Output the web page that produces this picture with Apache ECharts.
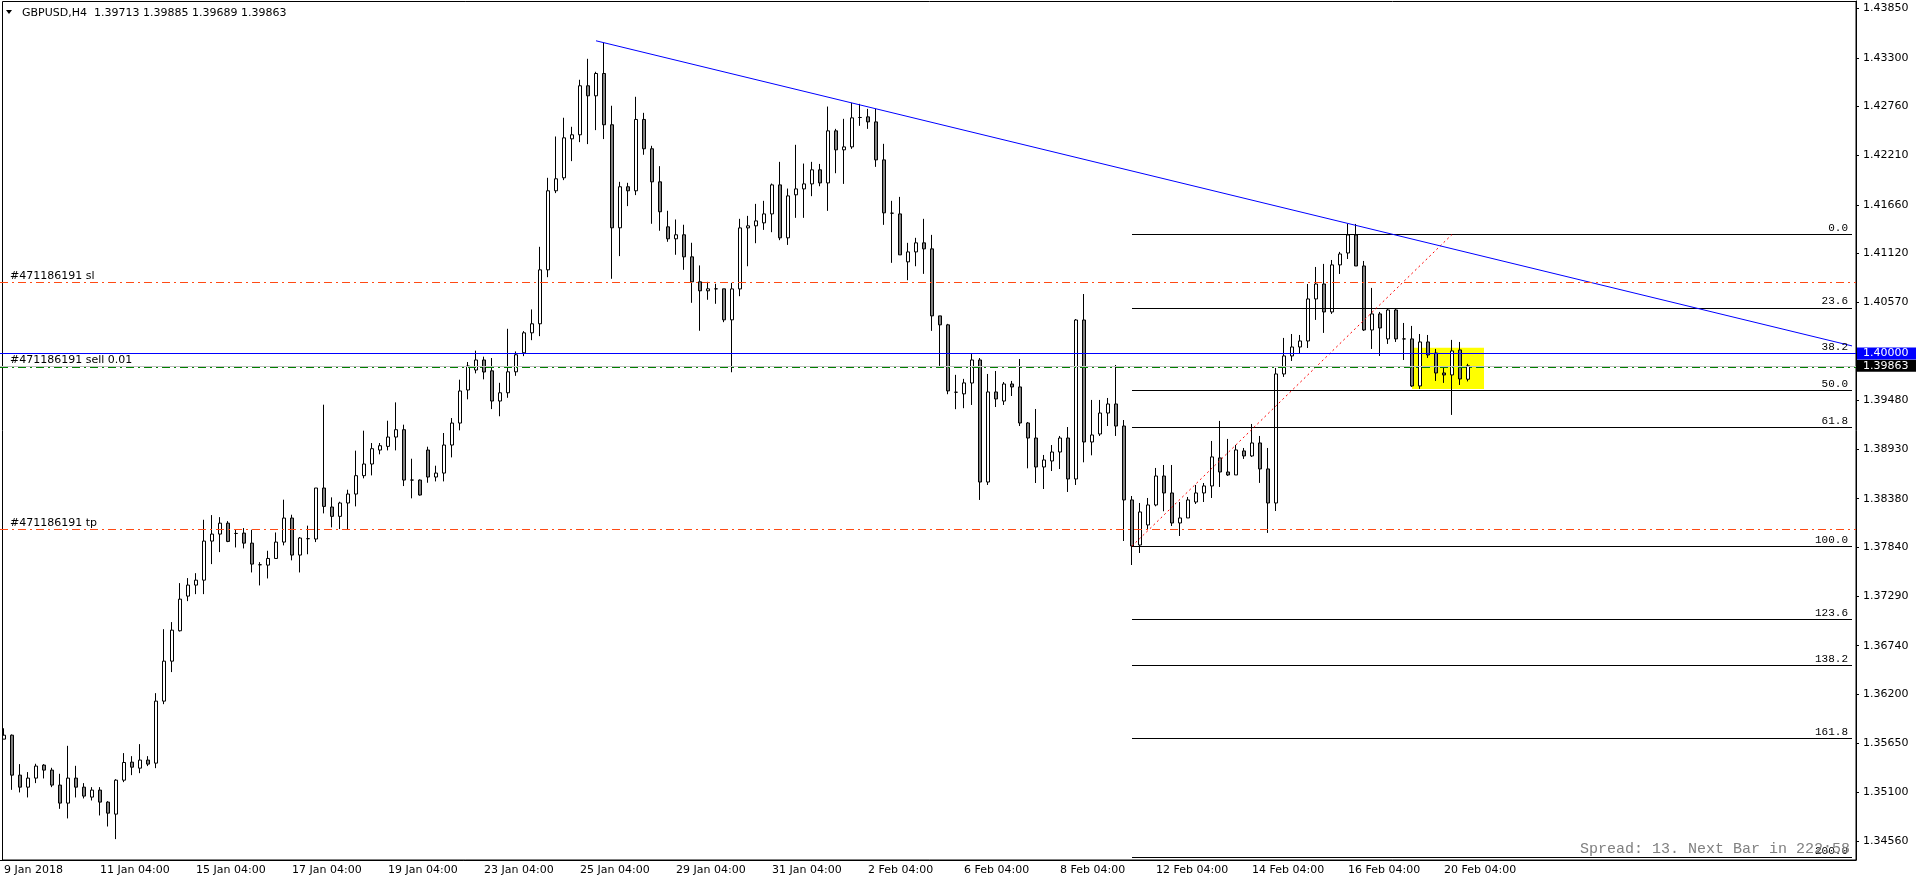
<!DOCTYPE html>
<html>
<head>
<meta charset="utf-8">
<script src="https://cdn.jsdelivr.net/npm/echarts@6/dist/echarts.min.js"></script>
<style>
html, body { margin: 0; padding: 0; background: #fff; }
#chart { width: 1916px; height: 884px; }
</style>
</head>
<body>
<div id="chart"></div>
<script>
// GBPUSD H4, one value per bar, bar 0 = 9 Jan 2018 04:00
var opens = [
 1.35697,1.35741,1.35295,1.35161,1.35262,1.35407,1.35351,1.35184,1.34983,1.35262,
 1.35161,1.35050,1.35128,1.34994,1.34860,1.35239,1.35440,1.35373,1.35463,1.35429,
 1.36121,1.36567,1.36906,1.37293,1.37416,1.37471,1.37907,1.37985,1.38107,1.37992,
 1.37996,1.37884,1.37643,1.37639,1.37713,1.37896,1.38164,1.37751,1.37934,1.37930,
 1.38499,1.38287,1.38183,1.38332,1.38432,1.38637,1.38767,1.38923,1.38964,1.39068,
 1.39150,1.38588,1.38588,1.38923,1.38622,1.38666,1.38979,1.39224,1.39593,1.39816,
 1.39928,1.39807,1.39470,1.39562,1.39796,1.40008,1.40231,1.40332,1.40934,1.41816,
 1.41961,1.42396,1.42441,1.42988,1.42876,1.43125,1.42553,1.41403,1.41861,1.41816,
 1.42612,1.42285,1.41916,1.41414,1.41280,1.41325,1.41079,1.40800,1.40700,1.40722,
 1.40722,1.40376,1.40721,1.41402,1.41425,1.41458,1.41558,1.41882,1.41291,1.41771,
 1.41837,1.41893,1.42050,1.41904,1.42485,1.42273,1.42306,1.42634,1.42641,1.42585,
 1.42161,1.41566,1.41558,1.41023,1.41134,1.41235,1.41168,1.40420,1.40320,1.39568,
 1.39550,1.39671,1.39928,1.38566,1.39571,1.39470,1.39660,1.39627,1.39225,1.39057,
 1.38734,1.38801,1.38901,1.39057,1.38600,1.40374,1.39013,1.39102,1.39336,1.39437,
 1.39191,1.38366,1.37863,1.38087,1.38310,1.38633,1.38444,1.38109,1.38165,1.38343,
 1.38444,1.38522,1.38835,1.38678,1.38645,1.38913,1.38857,1.39002,1.38712,1.38332,
 1.39772,1.39973,1.40073,1.40140,1.40609,1.40776,1.40464,1.40989,1.41122,1.41323,
 1.40977,1.40263,1.40442,1.40163,1.40486,1.40163,1.40163,1.39638,1.40129,1.40006,
 1.39783,1.39761,1.40040,1.39713
];
var highs = [
 1.35818,1.35749,1.35418,1.35329,1.35422,1.35418,1.35377,1.35310,1.35622,1.35399,
 1.35206,1.35161,1.35161,1.35005,1.35250,1.35541,1.35507,1.35641,1.35507,1.36210,
 1.36924,1.37003,1.37438,1.37494,1.37549,1.38145,1.38197,1.38174,1.38130,1.38040,
 1.38052,1.38033,1.37672,1.37799,1.38003,1.38369,1.38201,1.37952,1.38079,1.38499,
 1.39429,1.38395,1.38346,1.38480,1.38916,1.39139,1.39001,1.39001,1.39250,1.39455,
 1.39206,1.38826,1.38595,1.38960,1.38748,1.39113,1.39280,1.39708,1.39905,1.40032,
 1.39965,1.39950,1.39673,1.40276,1.40023,1.40250,1.40492,1.41191,1.41961,1.42422,
 1.42631,1.42530,1.43055,1.43289,1.43144,1.43468,1.42765,1.41916,1.41905,1.42865,
 1.42686,1.42318,1.42091,1.41593,1.41496,1.41437,1.41236,1.40983,1.40800,1.40778,
 1.40722,1.40788,1.41503,1.41536,1.41670,1.41704,1.41897,1.42139,1.41841,1.42329,
 1.42120,1.42139,1.42116,1.42756,1.42507,1.42619,1.42797,1.42786,1.42730,1.42730,
 1.42340,1.41704,1.41748,1.41235,1.41291,1.41503,1.41324,1.40420,1.40331,1.39762,
 1.39717,1.40006,1.39950,1.39772,1.39805,1.39682,1.39694,1.39939,1.39236,1.39381,
 1.38868,1.38979,1.39080,1.39180,1.40385,1.40664,1.39482,1.39482,1.39504,1.39872,
 1.39258,1.38410,1.38332,1.38388,1.38723,1.38756,1.38756,1.38343,1.38399,1.38533,
 1.38555,1.39024,1.39248,1.39047,1.38980,1.38946,1.39214,1.39080,1.38946,1.39839,
 1.40174,1.40218,1.40207,1.40776,1.40966,1.41000,1.41044,1.41134,1.41446,1.41446,
 1.41033,1.40732,1.40464,1.40497,1.40497,1.40341,1.40308,1.40218,1.40207,1.40051,
 1.39839,1.40152,1.40129,1.39885
];
var lows = [
 1.35697,1.35131,1.35102,1.35046,1.35206,1.35258,1.35161,1.34919,1.34812,1.35046,
 1.35035,1.35012,1.34845,1.34722,1.34581,1.35217,1.35295,1.35317,1.35396,1.35373,
 1.36087,1.36445,1.36898,1.37237,1.37315,1.37315,1.37650,1.37784,1.37895,1.37836,
 1.37825,1.37557,1.37412,1.37490,1.37713,1.37859,1.37692,1.37557,1.37760,1.37896,
 1.38216,1.38060,1.38041,1.38041,1.38294,1.38607,1.38640,1.38875,1.38919,1.38919,
 1.38521,1.38384,1.38415,1.38558,1.38573,1.38573,1.38841,1.39143,1.39489,1.39779,
 1.39712,1.39380,1.39300,1.39506,1.39751,1.39971,1.40149,1.40194,1.40852,1.41790,
 1.41935,1.42147,1.42359,1.42337,1.42493,1.42393,1.40834,1.41087,1.41645,1.41768,
 1.42218,1.41448,1.41370,1.41247,1.41102,1.40934,1.40566,1.40254,1.40600,1.40555,
 1.40350,1.39791,1.40640,1.40974,1.41231,1.41380,1.41354,1.41265,1.41212,1.41514,
 1.41514,1.41756,1.41867,1.41592,1.42012,1.41893,1.42284,1.42541,1.42507,1.42083,
 1.41436,1.41012,1.41101,1.40818,1.40974,1.40889,1.40253,1.39862,1.39546,1.39379,
 1.39390,1.39426,1.38366,1.38533,1.39403,1.39426,1.39526,1.39191,1.38719,1.38555,
 1.38488,1.38689,1.38711,1.38455,1.38533,1.38786,1.38864,1.39080,1.39191,1.39080,
 1.37908,1.37640,1.37774,1.38042,1.38295,1.38240,1.38075,1.37964,1.38165,1.38321,
 1.38343,1.38388,1.38511,1.38634,1.38645,1.38824,1.38846,1.38556,1.37998,1.38243,
 1.39739,1.39917,1.39995,1.40062,1.40375,1.40230,1.40442,1.40888,1.41055,1.40977,
 1.40252,1.40051,1.39973,1.40107,1.40129,1.39928,1.39627,1.39605,1.39951,1.39694,
 1.39672,1.39315,1.39649,1.39689
];
var closes = [
 1.35741,1.35295,1.35161,1.35262,1.35396,1.35351,1.35184,1.34983,1.35262,1.35161,
 1.35061,1.35128,1.34994,1.34871,1.35239,1.35436,1.35384,1.35463,1.35418,1.36121,
 1.36567,1.36913,1.37259,1.37416,1.37471,1.37907,1.37985,1.38107,1.37903,1.37992,
 1.37884,1.37650,1.37643,1.37713,1.37896,1.38164,1.37751,1.37941,1.37934,1.38499,
 1.38294,1.38183,1.38332,1.38432,1.38637,1.38767,1.38938,1.38971,1.39068,1.39150,
 1.38588,1.38588,1.38421,1.38622,1.38666,1.38979,1.39224,1.39582,1.39861,1.39928,
 1.39794,1.39470,1.39562,1.39796,1.39986,1.40231,1.40332,1.40934,1.41816,1.41950,
 1.42407,1.42441,1.42988,1.42876,1.43125,1.42553,1.41403,1.41861,1.41816,1.42612,
 1.42285,1.41916,1.41582,1.41280,1.41325,1.41079,1.40800,1.40700,1.40722,1.40722,
 1.40376,1.40721,1.41402,1.41425,1.41480,1.41558,1.41882,1.41291,1.41759,1.41837,
 1.41893,1.42050,1.41904,1.42485,1.42273,1.42306,1.42630,1.42634,1.42585,1.42161,
 1.41570,1.41566,1.41101,1.41134,1.41235,1.41168,1.40420,1.40320,1.39583,1.39568,
 1.39672,1.39928,1.38566,1.39571,1.39493,1.39660,1.39627,1.39225,1.39057,1.38734,
 1.38812,1.38901,1.39057,1.38600,1.40374,1.39013,1.39091,1.39336,1.39437,1.39191,
 1.38366,1.37852,1.38232,1.38310,1.38633,1.38444,1.38109,1.38165,1.38366,1.38444,
 1.38522,1.38846,1.38678,1.38645,1.38924,1.38857,1.39002,1.38712,1.38332,1.39772,
 1.39973,1.40073,1.40140,1.40609,1.40776,1.40464,1.40989,1.41111,1.41323,1.40977,
 1.40263,1.40442,1.40285,1.40486,1.40163,1.40163,1.39638,1.40129,1.39984,1.39783,
 1.39761,1.40029,1.39716,1.39863
];

// one label every 12 bars (2 trading days)
var tickLabels = ['9 Jan 2018', '11 Jan 04:00', '15 Jan 04:00', '17 Jan 04:00', '19 Jan 04:00',
  '23 Jan 04:00', '25 Jan 04:00', '29 Jan 04:00', '31 Jan 04:00', '2 Feb 04:00', '6 Feb 04:00',
  '8 Feb 04:00', '12 Feb 04:00', '14 Feb 04:00', '16 Feb 04:00', '20 Feb 04:00'];
var priceTicks = [1.43850, 1.43300, 1.42760, 1.42210, 1.41660, 1.41120, 1.40570, 1.39480,
  1.38930, 1.38380, 1.37840, 1.37290, 1.36740, 1.36200, 1.35650, 1.35100, 1.34560];

// objects on the chart
var slPrice = 1.40790, tpPrice = 1.38040, sellPrice = 1.39850, bidPrice = 1.39863, alertPrice = 1.40000;
var fibLevels = [0, 23.6, 38.2, 50, 61.8, 100, 123.6, 138.2, 161.8, 200];
var fibHigh = 1.413283, fibLow = 1.37851, fibFrom = 141, fibTo = 181;
var trendStart = [74, 1.43490], trendEnd = [231, 1.40085];
var boxStart = [176, 1.40065], boxEnd = [185, 1.39604];

var SLOTS = 232;
var FONT = 'DejaVu Sans';
var MONO = 'Liberation Mono';
var ORDER_RED = '#ff4a14';

var slots = [];
for (var i = 0; i < SLOTS; i++) slots.push(i);
var candles = [];
for (var i = 0; i < opens.length; i++) candles.push([opens[i], closes[i], lows[i], highs[i]]);

function isTick(idx) {
    return idx % 12 === 0 && idx / 12 < tickLabels.length;
}

function orderLabel(text) {
    return { show: true, position: 'insideStartTop', formatter: text, distance: [10, 1],
             color: '#000', fontFamily: FONT, fontSize: 11 };
}
function priceBox(text, bg) {
    return { show: true, position: 'end', formatter: text, distance: 1, color: '#fff',
             backgroundColor: bg, padding: [1, 9, 0, 6], fontFamily: FONT, fontSize: 11, lineHeight: 11 };
}

var fibLines = fibLevels.map(function (lv) {
    var p = Math.round((fibHigh - (fibHigh - fibLow) * lv / 100) * 1e5) / 1e5;
    return [
        { coord: [fibFrom, p], lineStyle: { color: '#000', type: 'solid', width: 1 },
          label: { show: true, position: 'insideEndTop', formatter: lv.toFixed(1), distance: [4, 1],
                   color: '#000', fontFamily: MONO, fontSize: 11 } },
        { coord: [SLOTS - 1, p] }
    ];
});

var drawLines = [
    [{ coord: [fibFrom, fibLow], lineStyle: { color: '#ff0000', type: [2, 3], width: 1 }, label: { show: false } },
     { coord: [fibTo, fibHigh] }],
    [{ coord: trendStart, lineStyle: { color: '#0000ff', type: 'solid', width: 1 }, label: { show: false } },
     { coord: trendEnd }]
];

// order lines and price boxes sit on top of the fibo levels
var hLines = [
    { yAxis: slPrice, lineStyle: { color: ORDER_RED, type: [8, 4, 2, 4] }, label: orderLabel('#471186191 sl') },
    { yAxis: tpPrice, lineStyle: { color: ORDER_RED, type: [8, 4, 2, 4] }, label: orderLabel('#471186191 tp') },
    { yAxis: bidPrice, lineStyle: { color: '#c0c0c0', type: 'solid' }, label: priceBox(bidPrice.toFixed(5), '#000') },
    { yAxis: sellPrice, lineStyle: { color: '#008000', type: [8, 4, 2, 4] }, label: orderLabel('#471186191 sell 0.01') },
    { yAxis: alertPrice, lineStyle: { color: '#0000ff', type: 'solid' }, label: priceBox(alertPrice.toFixed(5), '#0000ff') }
];

var last = opens.length - 1;
var header = 'GBPUSD,H4  ' + [opens[last], highs[last], lows[last], closes[last]]
    .map(function (v) { return v.toFixed(5); }).join(' ');

var myChart = echarts.init(document.getElementById('chart'));
var option = {
    animation: false,
    backgroundColor: '#fff',
    grid: { left: 0, right: 60, top: 1, bottom: 24 },
    xAxis: {
        type: 'category',
        data: slots,
        boundaryGap: true,
        axisLine: { lineStyle: { color: '#000', width: 1 } },
        axisTick: { interval: function (idx) { return isTick(idx); }, alignWithLabel: true, length: 4,
                    lineStyle: { color: '#000' } },
        axisLabel: {
            interval: function (idx) { return isTick(idx); },
            formatter: function (v, idx) { return tickLabels[idx / 12]; },
            align: 'left', margin: 5, color: '#000', fontFamily: FONT, fontSize: 11
        },
        splitLine: { show: false }
    },
    yAxis: {
        type: 'value',
        position: 'right',
        min: 1.34348,
        max: 1.43934,
        axisLine: { show: true, lineStyle: { color: '#000', width: 1 } },
        axisTick: { show: true, length: 3, customValues: priceTicks, lineStyle: { color: '#000' } },
        axisLabel: { customValues: priceTicks, formatter: function (v) { return v.toFixed(5); },
                     margin: 7, color: '#000', fontFamily: FONT, fontSize: 11 },
        splitLine: { show: false }
    },
    series: [
        {
            name: 'box',
            type: 'line',
            data: [],
            z: 1,
            markArea: {
                silent: true,
                z: 1,
                itemStyle: { color: '#ffff00', opacity: 1 },
                data: [[{ coord: boxStart }, { coord: boxEnd }]]
            }
        },
        {
            name: 'GBPUSD',
            type: 'candlestick',
            data: candles,
            barWidth: 4,
            z: 3,
            itemStyle: {
                color: '#ffffff', color0: '#808080',
                borderColor: '#000', borderColor0: '#000', borderColorDoji: '#000', borderWidth: 1
            }
        },
        {
            name: 'fibo',
            type: 'line',
            data: [],
            z: 5,
            markLine: {
                silent: true,
                z: 5,
                symbol: ['none', 'none'],
                precision: 5,
                data: fibLines.concat(drawLines)
            }
        },
        {
            name: 'orders',
            type: 'line',
            data: [],
            zlevel: 1,
            z: 7,
            markLine: {
                silent: true,
                zlevel: 1,
                z: 7,
                symbol: ['none', 'none'],
                precision: 5,
                data: hLines
            }
        }
    ],
    graphic: [
        { type: 'rect', shape: { x: 2.5, y: 1.5, width: 1853.5, height: 858.5 }, silent: true, z: 10,
          style: { fill: null, stroke: '#000', lineWidth: 1 } },
        { type: 'polygon', shape: { points: [[6, 10], [12, 10], [9, 14]] }, silent: true, z: 10,
          style: { fill: '#000' } },
        { type: 'text', x: 22, y: 13, silent: true, z: 10,
          style: { text: header, font: '11px "' + FONT + '"', fill: '#000',
                   verticalAlign: 'middle', textVerticalAlign: 'middle' } },
        { type: 'text', x: 1850, y: 849, silent: true, z: 10,
          style: { text: 'Spread: 13. Next Bar in 222:58', font: '15px "' + MONO + '"', fill: '#808080',
                   align: 'right', textAlign: 'right', verticalAlign: 'middle', textVerticalAlign: 'middle' } }
    ]
};
option && myChart.setOption(option);
</script>
</body>
</html>
